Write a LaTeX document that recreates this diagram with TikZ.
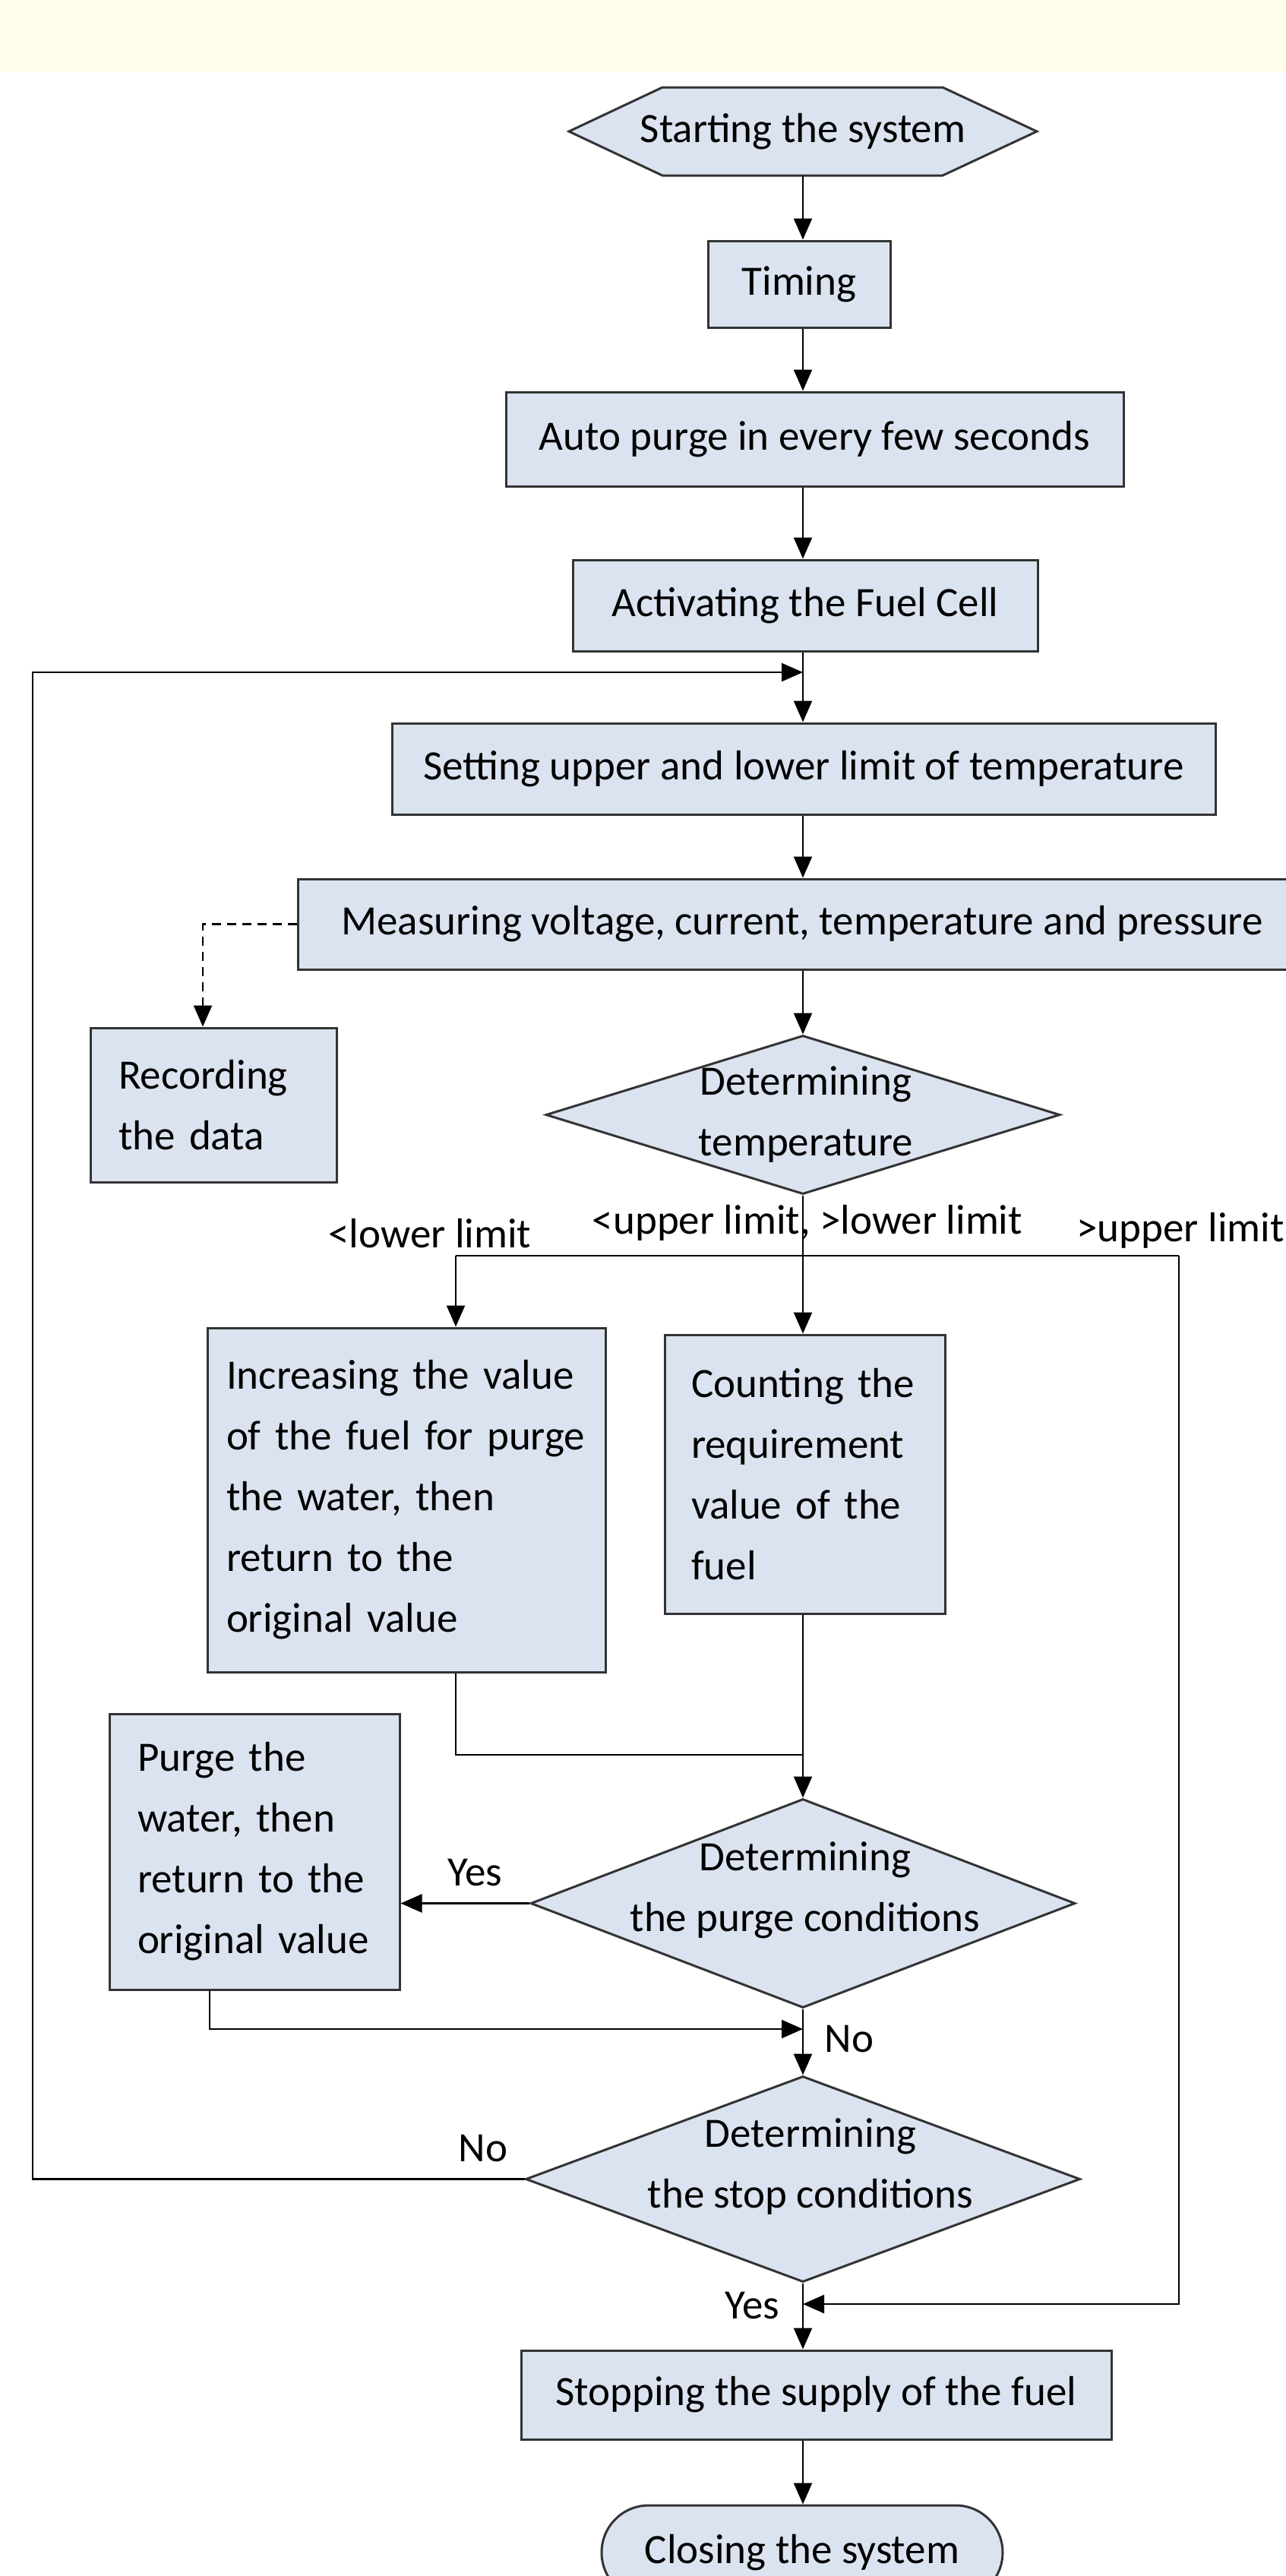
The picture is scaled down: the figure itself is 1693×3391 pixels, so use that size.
\documentclass[tikz,border=0pt]{standalone}
\usepackage{fontspec}
\setmainfont{Carlito}
\usetikzlibrary{arrows.meta,shapes.geometric,shapes.misc}
\definecolor{boxfill}{HTML}{DBE3F0}
\definecolor{boxline}{HTML}{333333}
\definecolor{band}{HTML}{FFFDEB}
\begin{document}
\begin{tikzpicture}[x=1pt,y=-1pt,
  font=\fontsize{55}{80}\selectfont,
  box/.style={draw=boxline, fill=boxfill, line width=3pt, rectangle, inner sep=0pt, align=center},
  mbox/.style={box, align=left, inner xsep=37pt},
  dia/.style={draw=boxline, fill=boxfill, line width=3pt, diamond, inner sep=0pt},
  conn/.style={line width=2.5pt, black},
  arr/.style={conn, -{Triangle[length=28pt,width=24pt]}},
  lbl/.style={inner sep=0pt}]
\clip (0,0) rectangle (1693,3391);
\fill[band] (0,0) rectangle (1693,95);
% start hexagon
\draw[draw=boxline, fill=boxfill, line width=3pt] (749,173) -- (872,115) -- (1241,115) -- (1365,173) -- (1241,231) -- (872,231) -- cycle;
\node[inner sep=0pt, minimum width=616pt, minimum height=116pt] (start) at (1057,173) {Starting the system};
\node[box, minimum width=240pt, minimum height=114pt] (timing) at (1052,374) {Timing};
\node[box, minimum width=813pt, minimum height=124pt] (auto) at (1072.5,578) {Auto purge in every few seconds};
\node[box, minimum width=612pt, minimum height=120pt] (act) at (1060,797) {Activating the Fuel Cell};
\node[box, minimum width=1084pt, minimum height=120pt] (set) at (1058,1012) {Setting upper and lower limit of temperature};
\node[box, minimum width=1328pt, minimum height=119pt] (meas) at (1056,1216.5) {Measuring voltage, current, temperature and pressure};
\node[mbox, text width=250pt, minimum height=203pt] (rec) at (281,1454.5) {Recording\\the data};
\node[dia, minimum width=677pt, minimum height=209pt] (tdia) at (1057,1467.5) {};
\node[lbl, align=center] at (1061,1467) {Determining\\temperature};
\node[mbox, text width=474pt, inner xsep=25pt, minimum height=453pt] (inc) at (535,1974.5) {Increasing the value\\of the fuel for purge\\the water, then\\return to the\\original value};
\node[mbox, text width=299pt, inner xsep=35pt, minimum height=367pt] (cnt) at (1059.5,1940.5) {Counting the\\requirement\\value of the\\fuel};
\node[dia, minimum width=717pt, minimum height=275pt] (pdia) at (1057,2505.5) {};
\node[lbl, align=center] at (1060,2488) {Determining\\the purge conditions};
\node[mbox, text width=308pt, minimum height=363pt] (purge) at (335,2437.5) {Purge the\\water, then\\return to the\\original value};
\node[dia, minimum width=730pt, minimum height=271pt] (sdia) at (1057,2868.5) {};
\node[lbl, align=center] at (1067,2852) {Determining\\the stop conditions};
\node[box, minimum width=777pt, minimum height=117pt] (stopf) at (1074.5,3152.5) {Stopping the supply of the fuel};
\node[draw=boxline, fill=boxfill, line width=3pt, rounded rectangle, minimum width=528pt, minimum height=124pt, inner sep=0pt] (close) at (1056,3360) {Closing the system};
% coordinates
\coordinate (loopin) at (1057,885);
\coordinate (lc1) at (43,2868.5);
\coordinate (lc2) at (43,885);
\coordinate (brL) at (600,1653);
\coordinate (brR) at (1552,1653);
\coordinate (merge) at (1057,2310);
\coordinate (pout) at (276,2619);
\coordinate (pin) at (1057,2671);
\coordinate (retU) at (1057,3033);
% connectors
\draw[arr] (start.south) -- (start.south |- timing.north);
\draw[arr] (start.south |- timing.south) -- (start.south |- auto.north);
\draw[arr] (start.south |- auto.south) -- (start.south |- act.north);
\draw[arr] (start.south |- act.south) -- (start.south |- set.north);
\draw[arr] (start.south |- set.south) -- (start.south |- meas.north);
\draw[arr] (start.south |- meas.south) -- (tdia.north);
\draw[conn, dash pattern=on 12pt off 8pt, -{Triangle[length=28pt,width=24pt]}] (meas.west) -| ([xshift=-14pt]rec.north);
\draw[conn] (brL) -- (brR);
\draw[arr] (brL) -- (brL |- inc.north);
\draw[arr] (tdia.south) -- (tdia.south |- cnt.north);
\draw[arr] (brR) |- (retU);
\draw[conn] (brL |- inc.south) |- (merge);
\draw[arr] (tdia.south |- cnt.south) -- (pdia.north);
\draw[arr] (pdia.west) -- (purge.east |- pdia.west);
\draw[arr] (pout) |- (pin);
\draw[arr] (pdia.south) -- (sdia.north);
\draw[arr] (sdia.west) -- (lc1) -- (lc2) -- (loopin);
\draw[arr] (sdia.south) -- (sdia.south |- stopf.north);
\draw[arr] (sdia.south |- stopf.south) -- (sdia.south |- close.north);
% labels
\node[lbl] at (625,2465) {Yes};
\node[lbl] at (1118,2684) {No};
\node[lbl] at (636,2828) {No};
\node[lbl] at (990,3035) {Yes};
\node[lbl] at (566,1624) {<lower limit};
\node[lbl] at (1063,1610) {<upper limit, >lower limit};
\node[lbl, anchor=east] at (1691,1620) {>upper limit};
\end{tikzpicture}
\end{document}
